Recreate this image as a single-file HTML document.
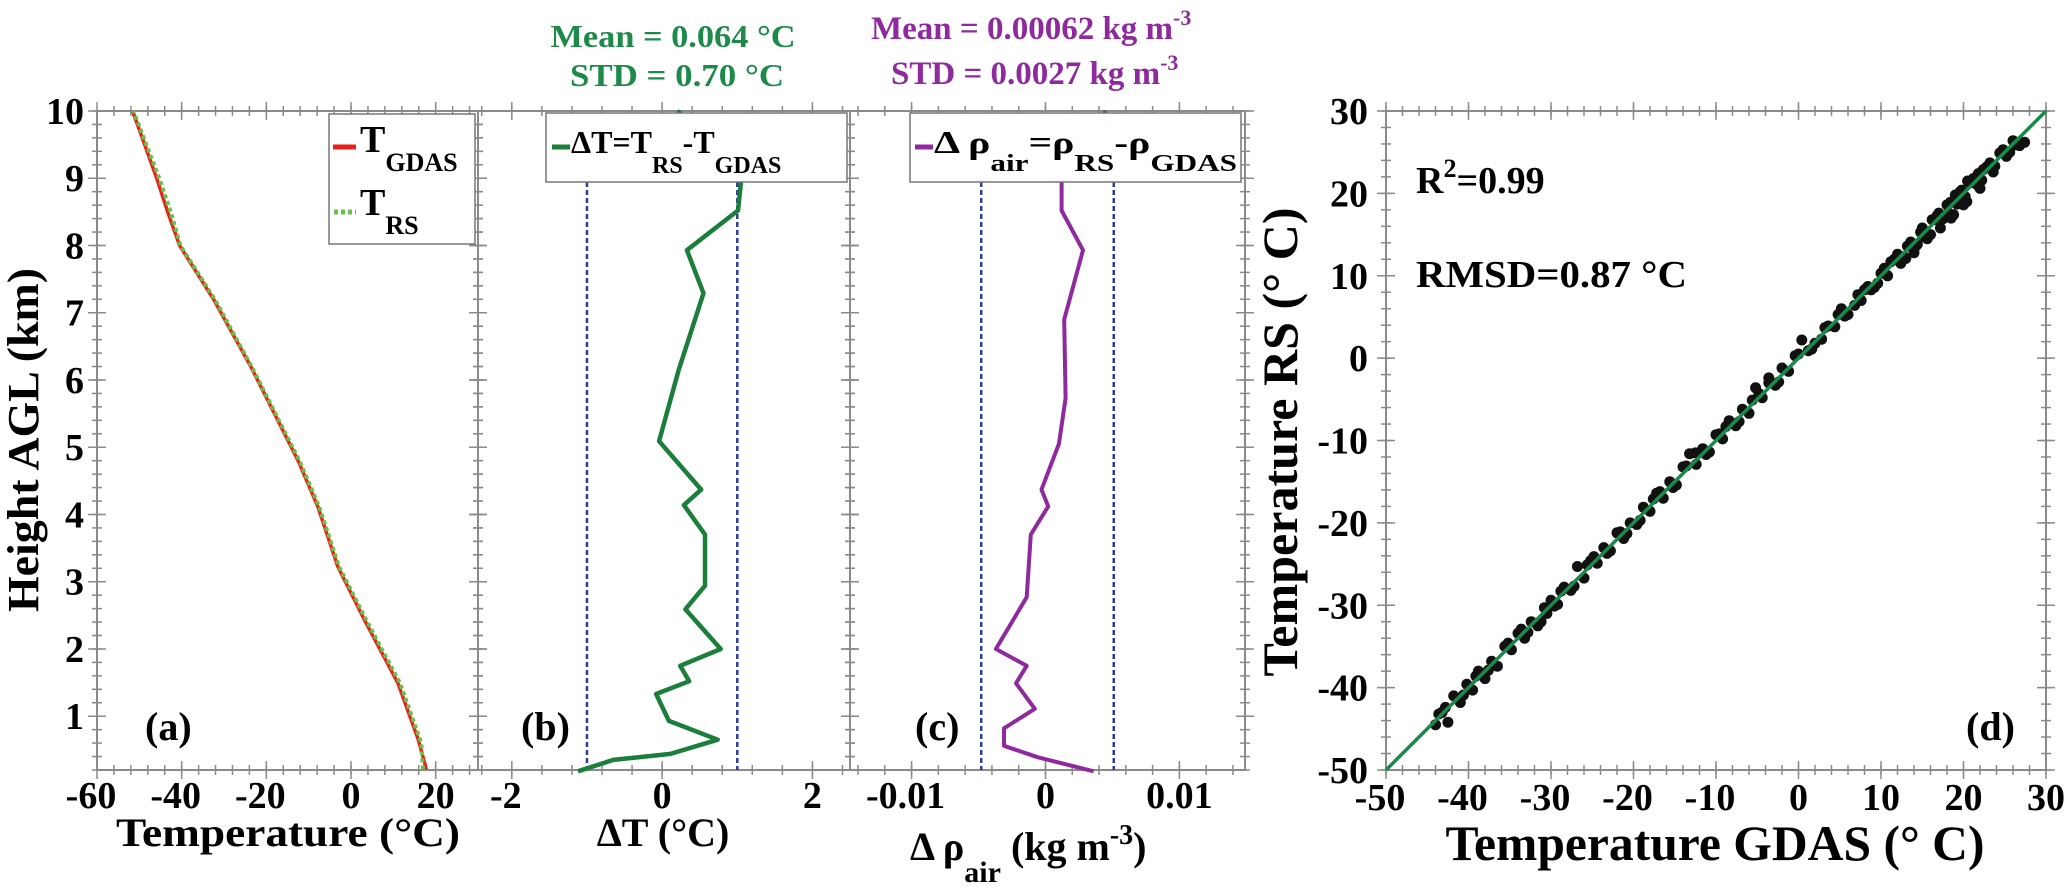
<!DOCTYPE html>
<html><head><meta charset="utf-8"><style>
html,body{margin:0;padding:0;background:#fff;}
svg{display:block;font-family:"Liberation Serif",serif;font-weight:bold;}
</style></head><body>
<svg id="fig" width="2067" height="891" viewBox="0 0 2067 891" xmlns="http://www.w3.org/2000/svg">
<g id="grid"></g>
<g id="marks"></g>
<g id="labels">
  <text x="673" y="47" font-size="32" fill="#1e8a4a" text-anchor="middle" textLength="245" lengthAdjust="spacingAndGlyphs">Mean = 0.064 °C</text>
  <text x="677" y="86" font-size="32" fill="#1e8a4a" text-anchor="middle" textLength="214" lengthAdjust="spacingAndGlyphs">STD = 0.70 °C</text>
  <text x="871" y="39" font-size="33" fill="#8e2a9e">Mean = 0.00062 kg m<tspan dy="-14" font-size="22">-3</tspan></text>
  <text x="891" y="84" font-size="33" fill="#8e2a9e">STD = 0.0027 kg m<tspan dy="-14" font-size="22">-3</tspan></text>

  <text transform="translate(38,440) rotate(-90)" font-size="44" text-anchor="middle" textLength="344" lengthAdjust="spacingAndGlyphs">Height AGL (km)</text>
  <text x="288" y="846" font-size="40" text-anchor="middle" textLength="344" lengthAdjust="spacingAndGlyphs">Temperature (°C)</text>
  <text x="663" y="846" font-size="40" text-anchor="middle">ΔT (°C)</text>
  <text x="910" y="860" font-size="40">Δ ρ<tspan dy="22" font-size="30">air</tspan><tspan dy="-22"> (kg m</tspan><tspan dy="-16" font-size="28">-3</tspan><tspan dy="16">)</tspan></text>

  <text x="145" y="740" font-size="40">(a)</text>
  <text x="521" y="740" font-size="40">(b)</text>
  <text x="915" y="740" font-size="40">(c)</text>
  <text x="1966" y="740" font-size="40">(d)</text>

  <text x="1416" y="193" font-size="38">R<tspan dy="-16" font-size="26">2</tspan><tspan dy="16">=0.99</tspan></text>
  <text x="1416" y="287" font-size="38" textLength="271" lengthAdjust="spacingAndGlyphs">RMSD=0.87 °C</text>
  <text x="1715" y="860" font-size="50" text-anchor="middle" textLength="539" lengthAdjust="spacingAndGlyphs">Temperature GDAS (° C)</text>
  <text transform="translate(1297,442) rotate(-90)" font-size="50" text-anchor="middle" textLength="469" lengthAdjust="spacingAndGlyphs">Temperature RS (° C)</text>

  <g>
    <rect x="329" y="114" width="146" height="130" fill="#fff" stroke="#777" stroke-width="1.5"/>
    <line x1="333" y1="147" x2="356" y2="147" stroke="#e8221b" stroke-width="5"/>
    <text x="360" y="152" font-size="38">T<tspan dy="19" font-size="26">GDAS</tspan></text>
    <line x1="334" y1="212" x2="356" y2="212" stroke="#6abf45" stroke-width="5" stroke-dasharray="4,3"/>
    <text x="360" y="215" font-size="38">T<tspan dy="19" font-size="26">RS</tspan></text>
  </g>
  <g>
    <rect x="546" y="113" width="301" height="69" fill="#fff" stroke="#777" stroke-width="1.5"/>
    <line x1="552" y1="147" x2="570" y2="147" stroke="#1b7e3a" stroke-width="5"/>
    <text x="571" y="153" font-size="32">ΔT=T<tspan dy="20" font-size="24">RS</tspan><tspan dy="-20">-T</tspan><tspan dy="20" font-size="24">GDAS</tspan></text>
  </g>
  <g>
    <rect x="910" y="113" width="331" height="69" fill="#fff" stroke="#777" stroke-width="1.5"/>
    <line x1="915" y1="147" x2="933" y2="147" stroke="#8e2a9e" stroke-width="5"/>
    <text x="934" y="153" font-size="32" textLength="303" lengthAdjust="spacingAndGlyphs">Δ ρ<tspan dy="18" font-size="24">air</tspan><tspan dy="-18">=ρ</tspan><tspan dy="18" font-size="24">RS</tspan><tspan dy="-18">-ρ</tspan><tspan dy="18" font-size="24">GDAS</tspan></text>
  </g>
</g>
</svg>
<script>
// ---- data ----
const heightsGdas = [0.21, 0.65, 1.49, 2.43, 3.22, 4.11, 4.8, 6.19, 7.18, 8.0, 8.5, 9.0, 10.0];
const tempGdas    = [17.8, 15.9, 11.1, 3.2, -3.1, -7.8, -12.5, -23.6, -32.3, -40.5, -43.3, -45.9, -51.6];
const heightsRs   = [0.21, 0.6, 1.49, 2.43, 3.22, 4.11, 4.8, 6.19, 7.18, 8.0, 8.5, 9.0, 10.0];
const tempRs      = [17.0, 16.6, 11.6, 3.6, -2.8, -7.5, -12.2, -23.4, -32.0, -40.3, -42.6, -45.3, -51.4];
const heightsDt   = [0.18, 0.35, 0.44, 0.65, 0.93, 1.33, 1.52, 1.75, 2.0, 2.59, 2.94, 3.7, 4.14, 4.37, 5.09, 6.15, 7.29, 7.93, 8.52, 8.95, 9.3, 10.0];
const deltaT      = [-1.12, -0.65, 0.11, 0.74, 0.09, -0.08, 0.36, 0.24, 0.78, 0.31, 0.57, 0.57, 0.29, 0.52, -0.04, 0.22, 0.55, 0.33, 1.01, 1.05, 1.05, 0.2];
const heightsRho  = [0.18, 0.39, 0.56, 0.82, 1.11, 1.49, 1.75, 2.0, 2.77, 3.7, 4.12, 4.37, 5.05, 5.73, 6.9, 7.93, 8.52, 8.95, 10.0];
const deltaRho    = [0.0036, -0.0006, -0.0031, -0.0031, -0.0008, -0.0022, -0.0014, -0.0037, -0.0014, -0.0011, 0.0002, -0.0003, 0.0010, 0.0015, 0.0014, 0.0028, 0.0012, 0.0012, 0.0045];
const scatterGdas = [-44,-43.2,-42.5,-41.8,-41,-40.2,-39.5,-38.8,-38,-37.2,-36.5,-35.6,-34.8,-34,-33.2,-32.4,-31.6,-30.8,-30,-29.2,-28.4,-27.6,-26.8,-26,-25.2,-24.4,-23.6,-22.8,-22,-21.2,-20.4,-19.6,-18.8,-18,-17.2,-16.4,-15.6,-14.8,-14,-13.2,-12.4,-11.6,-10.8,-10,-9.2,-8.4,-7.6,-6.8,-6,-5.2,-4.4,-3.6,-2.8,-2,-1.2,-0.4,0.4,1.2,2,2.8,3.6,4.4,5.2,6,6.8,7.6,8.4,9.2,10,10.8,11.6,12.4,13.2,14,14.8,15.6,16.4,17.2,18,18.8,19.6,20.4,21.2,22,22.8,23.6,24.4,25.2,26,26.8,27.4,15,16,17,18.5,19,20,21,22,20.5,17.5,12,13,8,-12.5,-30.5,-3.6,-43.6,-37.6,-33.6,-31.2,-24.8,-20.8,-16.8,-9.6,-5.6,4.8,9.6,11.2,14.4,19.2,23.2,25.6,
  -42.8,-40.6,-39.1,-36.9,-35.2,-32.8,-29.6,-28.8,-27.2,-25.6,-23.2,-21.6,-19.2,-17.6,-15.2,-13.6,-11.2,-8.8,-7.2,-4.8,-2.4,0,1.6,3.2,5.6,7.2,8.8,10.4,12.8,13.6,15.2,16.8,17.8,18.4,19.4,20.8,21.6,22.4,23.8,24.8,26.4,14.2,16.2,18.2,20.2,22.2,19.8,21.8];
const scatterRs   = [-44.5,-43.0,-44.2,-41.0,-41.8,-39.6,-40.3,-38.0,-38.9,-36.8,-37.4,-35.0,-35.4,-33.4,-34.0,-32.0,-32.5,-30.3,-29.4,-29.9,-27.8,-28.2,-25.3,-26.7,-24.6,-24.9,-23.0,-23.4,-21.2,-21.9,-20.0,-20.2,-18.1,-18.6,-16.4,-17.0,-15.0,-15.4,-13.2,-11.6,-12.9,-11.0,-11.4,-9.3,-9.8,-7.6,-8.2,-6.2,-6.7,-3.6,-4.8,-3.0,-3.3,-1.2,-1.6,0.3,2.2,0.9,1.8,2.3,3.9,3.8,6.0,5.3,6.4,7.0,8.7,8.6,10.3,10.0,12.0,11.5,13.6,12.8,15.3,14.5,16.8,15.8,18.6,17.4,20.2,19.0,21.8,20.6,23.2,22.6,24.9,24.5,26.4,25.8,26.2,15.8,15.0,17.6,17.0,19.8,18.6,21.5,21.8,21.5,16.9,12.6,12.1,8.3,-11.5,-31.0,-2.4,-43.2,-37.9,-32.9,-32.0,-24.1,-21.3,-16.2,-9.2,-5.1,5.3,9.1,11.7,13.8,18.7,23.7,25.0,
  -42.4,-40.9,-38.6,-37.3,-34.6,-33.3,-30.1,-28.3,-27.7,-25.1,-23.7,-21.1,-19.7,-17.1,-15.7,-13.1,-11.7,-8.3,-7.7,-4.3,-2.9,0.5,1.1,3.7,5.1,7.7,8.3,10.9,12.3,14.1,14.7,17.3,17.3,18.9,18.9,21.3,21.1,22.9,23.3,25.3,25.9,13.6,16.8,17.6,19.6,21.6,20.4,22.4];
const kmTicks = [1,2,3,4,5,6,7,8,9,10];
const tempTicks = [-60,-40,-20,0,20];
const dtTicks = [-2,0,2];
const rhoTicks = [-0.01,0,0.01];
const rhoTickLabels = ["-0.01","0","0.01"];
const dTicks = [-50,-40,-30,-20,-10,0,10,20,30];
const dtLimits = [-1, 1];
const rhoLimits = [-0.0048, 0.0051];

// ---- axes ----
const NS = "http://www.w3.org/2000/svg";
const gridG = document.getElementById('grid');
const marksG = document.getElementById('marks');
function lin(d0,d1,r0,r1){ return v => r0 + (v-d0)*(r1-r0)/(d1-d0); }
const yKm = lin(0.2,10,770,111);
const xA = lin(-60,30,97,478);
const xB = lin(-2.45,2.5,478,850);
const xC = lin(-0.0146,0.0149,850,1245);
const xD = lin(-50,30,1386,2046);
const yD = lin(-50,30,770,111);
function mk(tag, attrs, parent){ const e=document.createElementNS(NS,tag); for(const k in attrs) e.setAttribute(k,attrs[k]); (parent||gridG).appendChild(e); return e; }

function frame(x0,x1,y0,y1,name){
  const r = mk('rect',{x:x0,y:y0,width:x1-x0,height:y1-y0,fill:'none',stroke:'#8a8a8a','stroke-width':2});
  
  
}
function tick(x1,y1,x2,y2,w){ mk('line',{x1,y1,x2,y2,stroke:'#8a8a8a','stroke-width':w||1.5}); }
function vTicks(xs, scale, y0, y1, major){
  for(const v of xs){ const x=scale(v); const L=major?9:5; tick(x,y1-L,x,y1+L); tick(x,y0-L,x,y0+L); }
}
function hTicks(ys, scale, x0, x1, major){
  for(const v of ys){ const y=scale(v); const L=major?9:5; tick(x0-L,y,x0+L,y); tick(x1-L,y,x1+L,y); }
}
function range(a,b,s){ const o=[]; for(let v=a; v<=b+1e-9; v+=s) o.push(+v.toFixed(6)); return o; }

const panels = [[97,478,xA,range(-60,30,4),tempTicks,'panel-a-frame'],[478,850,xB,range(-2.4,2.5,0.4),dtTicks,'panel-b-frame'],[850,1245,xC,range(-0.014,0.014,0.002),rhoTicks,'panel-c-frame']];
for(const p of panels){
  frame(p[0],p[1],111,770,p[5]);
  vTicks(p[3].filter(v=>p[2](v)>p[0]+2&&p[2](v)<p[1]-2), p[2], 111, 770, false);
  vTicks(p[4], p[2], 111, 770, true);
  hTicks(range(0.2,10,0.2), yKm, p[0], p[1], false);
  hTicks(kmTicks, yKm, p[0], p[1], true);
}
frame(1386,2046,111,770,'panel-d-frame');
vTicks(range(-50,30,2), xD, 111, 770, false);
vTicks(dTicks, xD, 111, 770, true);
hTicks(range(-50,30,2), yD, 1386, 2046, false);
hTicks(dTicks, yD, 1386, 2046, true);

function label(x,y,txt,anchor,name){
  const t=mk('text',{x,y,'font-size':38,'text-anchor':anchor});
  t.textContent=txt;
  
  
}
for(const v of kmTicks) label(84, yKm(v)+13, String(v), 'end', 'y-tick-label');
for(const v of tempTicks) label(xA(v)-(v<0?6:0), 808, String(v), 'middle', 'x-tick-label-a');
for(const v of dtTicks) label(xB(v)-(v<0?6:0), 808, String(v), 'middle', 'x-tick-label-b');
rhoTicks.forEach((v,i)=>label(xC(v)-(v<0?6:0), 808, rhoTickLabels[i], 'middle', 'x-tick-label-c'));
for(const v of dTicks) label(1368, yD(v)+13, String(v), 'end', 'y-tick-label-d');
for(const v of dTicks) label(xD(v)-(v<0?6:0), 810, String(v), 'middle', 'x-tick-label-d');

// ---- marks ----
function path(xs, ys, xs_, ys_, attrs, name){
  const d = xs.map((v,i)=>(i?'L':'M')+xs_(v).toFixed(1)+','+ys_(ys[i]).toFixed(1)).join(' ');
  const p = mk('path', Object.assign({d, fill:'none'}, attrs), marksG);
  
  
}
for(const v of dtLimits){
  const l = mk('line',{x1:xB(v),y1:182,x2:xB(v),y2:770,stroke:'#2a3fa0','stroke-width':2.5,'stroke-dasharray':'5,3'}, marksG);
  
  
}
for(const v of rhoLimits){
  const l = mk('line',{x1:xC(v),y1:182,x2:xC(v),y2:770,stroke:'#2a3fa0','stroke-width':2.5,'stroke-dasharray':'5,3'}, marksG);
  
  
}
path(tempGdas, heightsGdas, xA, yKm, {stroke:'#e8221b','stroke-width':3.5,'stroke-linejoin':'round'}, 't-gdas-line');
path(tempRs, heightsRs, xA, yKm, {stroke:'#6abf45','stroke-width':4,'stroke-dasharray':'4,3'}, 't-rs-line');
path(deltaT, heightsDt, xB, yKm, {stroke:'#1b7e3a','stroke-width':4.5,'stroke-linejoin':'round'}, 'delta-t-line');
path(deltaRho, heightsRho, xC, yKm, {stroke:'#8e2a9e','stroke-width':4,'stroke-linejoin':'round'}, 'delta-rho-line');
for(let i=0;i<scatterGdas.length;i++){
  const c = mk('circle',{cx:xD(scatterGdas[i]).toFixed(1),cy:yD(scatterRs[i]).toFixed(1),r:5.5,fill:'#111'}, marksG);
  
  
}
const fit = mk('line',{x1:xD(-50),y1:yD(-50),x2:xD(30),y2:yD(30),stroke:'#1a8a4a','stroke-width':3.5}, marksG);


const lab = document.getElementById('labels');
lab.parentNode.appendChild(lab);
</script>
</body></html>
